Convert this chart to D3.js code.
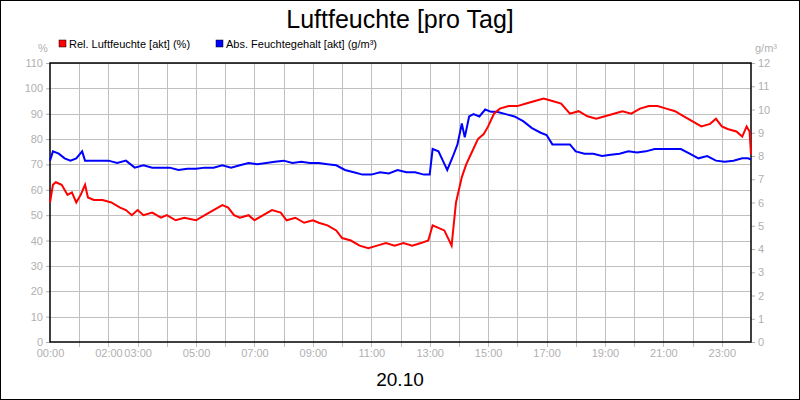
<!DOCTYPE html>
<html><head><meta charset="utf-8">
<script src="https://cdn.jsdelivr.net/npm/d3@7"></script>
<style>body{margin:0}svg{font-family:Arial,"Liberation Sans",sans-serif}</style>
</head><body><div class="chart"></div>
<script>
// time in hours
const relTime = [0,0.1,0.2,0.4,0.6,0.75,0.9,1.05,1.2,1.3,1.5,1.8,2.1,2.4,2.6,2.8,3.0,3.2,3.5,3.8,4.0,4.3,4.6,5.0,5.3,5.6,5.9,6.1,6.3,6.5,6.8,7.0,7.3,7.6,7.9,8.1,8.4,8.7,9.0,9.2,9.5,9.8,10.0,10.3,10.6,10.9,11.2,11.5,11.8,12.1,12.4,12.7,12.95,13.1,13.3,13.5,13.75,13.9,14.1,14.25,14.45,14.65,14.85,15.0,15.2,15.4,15.7,16.0,16.3,16.6,16.9,17.2,17.5,17.8,18.1,18.4,18.7,19.0,19.3,19.6,19.9,20.2,20.5,20.8,21.1,21.4,21.7,22.0,22.3,22.6,22.8,23.0,23.2,23.5,23.7,23.85,23.95,24.0];
const relHum  = [55,62,63,62,58,59,55,58,62,57,56,56,55,53,52,50,52,50,51,49,50,48,49,48,50,52,54,53,50,49,50,48,50,52,51,48,49,47,48,47,46,44,41,40,38,37,38,39,38,39,38,39,40,46,45,44,38,55,65,70,75,80,82,85,90,92,93,93,94,95,96,95,94,90,91,89,88,89,90,91,90,92,93,93,92,91,89,87,85,86,88,85,84,83,81,85,83,74];
const absTime = [0,0.1,0.3,0.5,0.7,0.9,1.1,1.2,1.4,1.7,2.0,2.3,2.6,2.9,3.2,3.5,3.8,4.1,4.4,4.7,5.0,5.3,5.6,5.9,6.2,6.5,6.8,7.1,7.4,7.7,8.0,8.3,8.6,8.9,9.2,9.5,9.8,10.1,10.4,10.7,11.0,11.3,11.6,11.9,12.2,12.5,12.8,13.0,13.1,13.3,13.45,13.6,13.8,13.95,14.1,14.2,14.35,14.5,14.7,14.9,15.1,15.3,15.6,15.9,16.2,16.5,16.8,17.0,17.2,17.5,17.8,18.0,18.3,18.6,18.9,19.2,19.5,19.8,20.1,20.4,20.7,21.0,21.3,21.6,21.9,22.2,22.5,22.8,23.1,23.4,23.7,23.9,24.0];
const absHum  = [7.8,8.2,8.1,7.9,7.8,7.9,8.2,7.8,7.8,7.8,7.8,7.7,7.8,7.5,7.6,7.5,7.5,7.5,7.4,7.45,7.45,7.5,7.5,7.6,7.5,7.6,7.7,7.65,7.7,7.75,7.8,7.7,7.75,7.7,7.7,7.65,7.6,7.4,7.3,7.2,7.2,7.3,7.25,7.4,7.3,7.3,7.2,7.2,8.3,8.2,7.8,7.4,8.0,8.5,9.4,8.8,9.7,9.8,9.7,10.0,9.9,9.9,9.8,9.7,9.5,9.2,9.0,8.9,8.5,8.5,8.5,8.2,8.1,8.1,8.0,8.05,8.1,8.2,8.15,8.2,8.3,8.3,8.3,8.3,8.1,7.9,8.0,7.8,7.75,7.8,7.9,7.9,7.85,7.8];
const leftTicks = d3.range(0, 111, 10);
const rightTicks = d3.range(0, 13, 1);
const hourLabels = [0,2,3,5,7,9,11,13,15,17,19,21,23];

const width = 800, height = 400;
const margin = {top: 63, left: 50, right: 49, bottom: 58};
const svg = d3.select('.chart').append('svg').attr('width', width).attr('height', height);
svg.append('rect').attr('x', 0.5).attr('y', 0.5).attr('width', width - 1).attr('height', height - 1)
    .attr('fill', '#fff').attr('stroke', '#000');

const x = d3.scaleLinear().domain([0, 24]).range([margin.left, width - margin.right]);
const yL = d3.scaleLinear().domain([0, 110]).range([height - margin.bottom, margin.top]);
const yR = d3.scaleLinear().domain([0, 12]).range([height - margin.bottom, margin.top]);

const grid = svg.append('g').attr('stroke', '#c0c0c0').attr('stroke-width', 1);
d3.range(1, 24).forEach(h => grid.append('line').attr('x1', Math.round(x(h)) + 0.5).attr('x2', Math.round(x(h)) + 0.5)
    .attr('y1', margin.top).attr('y2', height - margin.bottom + 5));
leftTicks.slice(1).forEach(v => grid.append('line').attr('x1', margin.left).attr('x2', width - margin.right)
    .attr('y1', Math.round(yL(v)) + 0.5).attr('y2', Math.round(yL(v)) + 0.5));

const axL = svg.append('g').attr('transform', `translate(${margin.left},0)`)
    .call(d3.axisLeft(yL).tickValues(leftTicks).tickSize(4).tickPadding(3));
const axR = svg.append('g').attr('transform', `translate(${width - margin.right},0)`)
    .call(d3.axisRight(yR).tickValues(rightTicks).tickSize(4).tickPadding(3));
const axB = svg.append('g').attr('transform', `translate(0,${height - margin.bottom})`)
    .call(d3.axisBottom(x).tickValues(hourLabels).tickSize(0).tickPadding(7)
        .tickFormat(h => String(h).padStart(2, '0') + ':00'));
[axL, axR, axB].forEach(a => {
    a.selectAll('text').attr('fill', '#b0b0b0').style('font-size', '11px');
    a.selectAll('line').attr('stroke', '#b0b0b0');
    a.select('.domain').remove();
});

svg.append('rect').attr('x', margin.left).attr('y', margin.top)
    .attr('width', width - margin.left - margin.right).attr('height', height - margin.top - margin.bottom)
    .attr('fill', 'none').attr('stroke', '#000').attr('stroke-width', 1.5);

const lineRel = d3.line().x((d, i) => x(relTime[i])).y(d => yL(d));
const lineAbs = d3.line().x((d, i) => x(absTime[i])).y(d => yR(d));
svg.append('path').attr('d', lineAbs(absHum)).attr('fill', 'none').attr('stroke', '#0000ff').attr('stroke-width', 2);
svg.append('path').attr('d', lineRel(relHum)).attr('fill', 'none').attr('stroke', '#ff0000').attr('stroke-width', 2);

svg.append('text').attr('x', 400).attr('y', 28).attr('text-anchor', 'middle').style('font-size', '25px').text('Luftfeuchte [pro Tag]');
svg.append('text').attr('x', 400).attr('y', 386).attr('text-anchor', 'middle').style('font-size', '19px').text('20.10');
svg.append('text').attr('x', 43).attr('y', 52).attr('text-anchor', 'middle').attr('fill', '#b0b0b0').style('font-size', '11px').text('%');
svg.append('text').attr('x', 766).attr('y', 52).attr('text-anchor', 'middle').attr('fill', '#b0b0b0').style('font-size', '11px').text('g/m³');

const legend = [['Rel. Luftfeuchte [akt] (%)', '#ff0000', 59], ['Abs. Feuchtegehalt [akt] (g/m³)', '#0000ff', 216]];
legend.forEach(([t, c, lx]) => {
    svg.append('rect').attr('x', lx).attr('y', 40).attr('width', 7).attr('height', 7).attr('fill', c).attr('stroke', '#000').attr('stroke-width', 0.5);
    svg.append('text').attr('x', lx + 10).attr('y', 48).style('font-size', '11px').text(t);
});
</script></body></html>
